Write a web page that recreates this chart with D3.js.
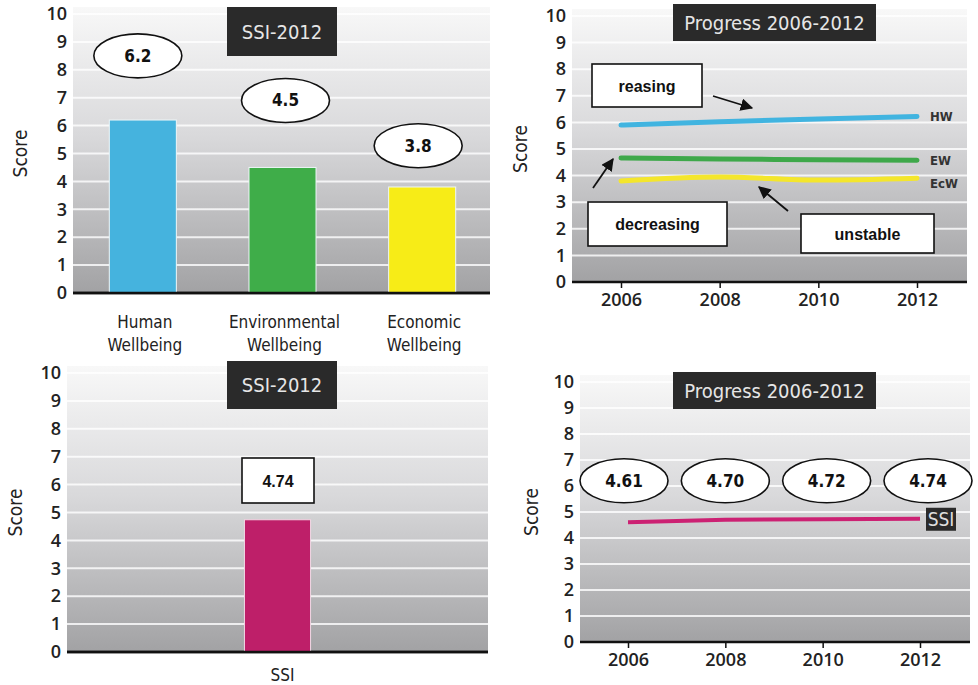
<!DOCTYPE html>
<html>
<head>
<meta charset="utf-8">
<script src="https://cdn.jsdelivr.net/npm/d3@7"></script>
<style>
body { margin: 0; background: #fff; }
</style>
</head>
<body>
<script>
// chart values
var wbCategories = ["Human Wellbeing", "Environmental Wellbeing", "Economic Wellbeing"];
var wbValues = [6.2, 4.5, 3.8];
var wbLabels = ["6.2", "4.5", "3.8"];
var wbColors = ["#45b3de", "#3fad49", "#f7ec17"];

var years = [2006, 2008, 2010, 2012];
var hwSeries = [5.9, 6.02, 6.13, 6.22];
var ewSeries = [4.66, 4.62, 4.6, 4.58];
var ecwSeries = [3.8, 3.95, 3.83, 3.9];
var seriesNames = ["HW", "EW", "EcW"];
var seriesColors = ["#41b4e0", "#3ea84a", "#f4e62c"];

var ssiCategory = ["SSI"];
var ssiValue = [4.74];
var ssiSeries = [4.61, 4.70, 4.72, 4.74];
var ssiLabels = ["4.61", "4.70", "4.72", "4.74"];

var scoreTicks = [0, 1, 2, 3, 4, 5, 6, 7, 8, 9, 10];

var w = 978, h = 685;
var condensed = "DejaVu Sans Condensed, Open Sans, sans-serif";
var numFont = "Open Sans, sans-serif";

var svg = d3.select("body").append("svg")
  .attr("width", w)
  .attr("height", h)
  .attr("font-family", condensed);

// shared gray gradient for plot backgrounds
var defs = svg.append("defs");
var grad = defs.append("linearGradient")
  .attr("id", "bg")
  .attr("x1", 0).attr("y1", 0).attr("x2", 0).attr("y2", 1);
grad.append("stop").attr("offset", "0%").attr("stop-color", "#f8f8f8");
grad.append("stop").attr("offset", "45%").attr("stop-color", "#d9d9db");
grad.append("stop").attr("offset", "100%").attr("stop-color", "#a2a2a4");

defs.append("marker")
  .attr("id", "arrow")
  .attr("viewBox", "0 0 10 10")
  .attr("refX", 9).attr("refY", 5)
  .attr("markerWidth", 7).attr("markerHeight", 7)
  .attr("orient", "auto")
  .append("path")
  .attr("d", "M0,0 L10,5 L0,10 z")
  .attr("fill", "#111");

// background, grid, score axis, baseline and title for one panel
var drawPanel = function(o) {
  var g = svg.append("g");
  var y = o.y;
  g.append("rect")
    .attr("x", o.x0).attr("y", y(10) - 7)
    .attr("width", o.x1 - o.x0).attr("height", y(0) - y(10) + 7)
    .attr("fill", "url(#bg)");

  g.selectAll(".grid")
    .data(scoreTicks.slice(1))
    .enter().append("line")
    .attr("x1", o.x0).attr("x2", o.x1)
    .attr("y1", function(d) { return y(d); })
    .attr("y2", function(d) { return y(d); })
    .attr("stroke", "#fff")
    .attr("stroke-opacity", 0.8)
    .attr("stroke-width", 2);

  var axis = g.append("g")
    .attr("transform", "translate(" + (o.x0 - 6) + ",0)")
    .call(d3.axisLeft(y).tickValues(scoreTicks).tickSize(0).tickPadding(0));
  axis.select(".domain").remove();
  axis.attr("font-family", numFont);
  axis.selectAll("text")
    .attr("font-size", 18)
    .attr("font-weight", 600)
    .attr("fill", "#222");

  g.append("text")
    .attr("transform", "translate(" + o.scoreX + "," + ((y(0) + y(10)) / 2) + ") rotate(-90)")
    .attr("text-anchor", "middle")
    .attr("font-size", 19)
    .attr("fill", "#222")
    .text("Score");

  g.append("line")
    .attr("x1", o.x0).attr("x2", o.x1)
    .attr("y1", y(0)).attr("y2", y(0))
    .attr("stroke", "#111")
    .attr("stroke-width", 2.5);

  g.append("rect")
    .attr("x", o.tx).attr("y", o.ty)
    .attr("width", o.tw).attr("height", o.th)
    .attr("fill", "#2a2a2a");
  g.append("text")
    .attr("x", o.tx + o.tw / 2).attr("y", o.ty + o.th / 2 + 7)
    .attr("text-anchor", "middle")
    .attr("font-size", 20)
    .attr("fill", "#e6e6e6")
    .text(o.title);
  return g;
};

var ellipseLabel = function(g, cx, cy, txt) {
  g.append("ellipse")
    .attr("cx", cx).attr("cy", cy)
    .attr("rx", 44).attr("ry", 22)
    .attr("fill", "#fff")
    .attr("stroke", "#111")
    .attr("stroke-width", 1.6);
  g.append("text")
    .attr("x", cx).attr("y", cy + 6)
    .attr("text-anchor", "middle")
    .attr("font-size", 17)
    .attr("font-weight", "bold")
    .attr("fill", "#111")
    .text(txt);
};

var boxLabel = function(g, x, yy, bw, bh, txt) {
  g.append("rect")
    .attr("x", x).attr("y", yy)
    .attr("width", bw).attr("height", bh)
    .attr("fill", "#fff")
    .attr("stroke", "#111")
    .attr("stroke-width", 1.6);
  g.append("text")
    .attr("x", x + bw / 2).attr("y", yy + bh / 2 + 6)
    .attr("text-anchor", "middle")
    .attr("font-size", 16)
    .attr("font-weight", "bold")
    .attr("font-family", "Liberation Sans, Arial, sans-serif")
    .attr("fill", "#111")
    .text(txt);
};

// ---- panel 1: SSI-2012 wellbeing bars ----
var y1 = d3.scaleLinear().domain([0, 10]).range([293, 14]);
var x1 = d3.scaleBand().domain(wbCategories).range([73, 492])
  .paddingInner(0.52).paddingOuter(0.26);
var p1 = drawPanel({ x0: 73, x1: 490, y: y1, scoreX: 27, title: "SSI-2012",
  tx: 227, ty: 7, tw: 110, th: 49 });

p1.selectAll(".bar")
  .data(wbValues)
  .enter().append("rect")
  .attr("x", function(d, i) { return x1(wbCategories[i]); })
  .attr("y", function(d) { return y1(d); })
  .attr("width", x1.bandwidth())
  .attr("height", function(d) { return y1(0) - y1(d); })
  .attr("fill", function(d, i) { return wbColors[i]; })
  .attr("stroke", "#eef6f8")
  .attr("stroke-width", 1);

// redraw baseline over bars
p1.append("line")
  .attr("x1", 73).attr("x2", 490).attr("y1", y1(0)).attr("y2", y1(0))
  .attr("stroke", "#111").attr("stroke-width", 2.5);

var wbLabelLevels = [8.5, 6.9, 5.28];
var wbLabelShift = [-5, 3, -4];
wbLabels.forEach(function(t, i) {
  ellipseLabel(p1, x1(wbCategories[i]) + x1.bandwidth() / 2 + wbLabelShift[i], y1(wbLabelLevels[i]), t);
});

wbCategories.forEach(function(c, i) {
  var parts = c.split(" ");
  var t = p1.append("text")
    .attr("text-anchor", "middle")
    .attr("font-size", 17)
    .attr("fill", "#222");
  parts.forEach(function(p, j) {
    t.append("tspan")
      .attr("x", x1(c) + x1.bandwidth() / 2 + 2)
      .attr("y", 328 + j * 23)
      .text(p);
  });
});

// ---- panel 2: progress of the three dimensions ----
var y2 = d3.scaleLinear().domain([0, 10]).range([282, 16]);
var x2 = d3.scaleLinear().domain([2006, 2012]).range([621, 917]);
var p2 = drawPanel({ x0: 572, x1: 967, y: y2, scoreX: 527, title: "Progress 2006-2012",
  tx: 673, ty: 4, tw: 203, th: 37 });

var xAxis2 = p2.append("g")
  .attr("transform", "translate(0," + y2(0) + ")")
  .call(d3.axisBottom(x2).tickValues(years).tickFormat(d3.format("d")).tickSize(6).tickPadding(5));
xAxis2.select(".domain").remove();
xAxis2.attr("font-family", numFont);
xAxis2.selectAll("line").attr("stroke", "#111").attr("stroke-width", 1.5);
xAxis2.selectAll("text").attr("font-size", 18).attr("font-weight", 600).attr("fill", "#222");

var lineGen2 = d3.line()
  .x(function(d, i) { return x2(years[i]); })
  .y(function(d) { return y2(d); })
  .curve(d3.curveMonotoneX);

var allSeries = [hwSeries, ewSeries, ecwSeries];
p2.selectAll(".series")
  .data(allSeries)
  .enter().append("path")
  .attr("d", lineGen2)
  .attr("fill", "none")
  .attr("stroke", function(d, i) { return seriesColors[i]; })
  .attr("stroke-width", 5)
  .attr("stroke-linecap", "round");

var nameOffsets = [0, 1, 6];
seriesNames.forEach(function(n, i) {
  var s = allSeries[i];
  p2.append("text")
    .attr("x", x2(2012) + 13)
    .attr("y", y2(s[s.length - 1]) + 4 + nameOffsets[i])
    .attr("font-size", 13)
    .attr("font-weight", "bold")
    .attr("fill", "#333")
    .text(n);
});

boxLabel(p2, 592, 64, 110, 43, "reasing");
boxLabel(p2, 588, 202, 139, 44, "decreasing");
boxLabel(p2, 801, 214, 133, 39, "unstable");

var arrows = [
  [713, 96, 752, 108],
  [593, 188, 613, 159],
  [788, 211, 759, 187]
];
p2.selectAll(".arrow")
  .data(arrows)
  .enter().append("line")
  .attr("x1", function(d) { return d[0]; })
  .attr("y1", function(d) { return d[1]; })
  .attr("x2", function(d) { return d[2]; })
  .attr("y2", function(d) { return d[3]; })
  .attr("stroke", "#111")
  .attr("stroke-width", 1.8)
  .attr("marker-end", "url(#arrow)");

// ---- panel 3: SSI-2012 single bar ----
var y3 = d3.scaleLinear().domain([0, 10]).range([652, 373]);
var x3 = d3.scaleBand().domain(ssiCategory).range([67, 488])
  .paddingInner(0.843).paddingOuter(0.42);
var p3 = drawPanel({ x0: 67, x1: 488, y: y3, scoreX: 22, title: "SSI-2012",
  tx: 227, ty: 361, tw: 110, th: 48 });

p3.selectAll(".bar")
  .data(ssiValue)
  .enter().append("rect")
  .attr("x", function(d, i) { return x3(ssiCategory[i]); })
  .attr("y", function(d) { return y3(d); })
  .attr("width", x3.bandwidth())
  .attr("height", function(d) { return y3(0) - y3(d); })
  .attr("fill", "#be1f69")
  .attr("stroke", "#f2d8e4")
  .attr("stroke-width", 1);

p3.append("line")
  .attr("x1", 67).attr("x2", 488).attr("y1", y3(0)).attr("y2", y3(0))
  .attr("stroke", "#111").attr("stroke-width", 2.5);

boxLabel(p3, 242, 458, 72, 45, d3.format(".2f")(ssiValue[0]));

p3.append("text")
  .attr("x", x3("SSI") + x3.bandwidth() / 2 + 5)
  .attr("y", 681)
  .attr("text-anchor", "middle")
  .attr("font-size", 17)
  .attr("fill", "#222")
  .text("SSI");

// ---- panel 4: SSI progress ----
var y4 = d3.scaleLinear().domain([0, 10]).range([642, 382]);
var x4 = d3.scaleLinear().domain([2006, 2012]).range([628, 920]);
var p4 = drawPanel({ x0: 580, x1: 970, y: y4, scoreX: 538, title: "Progress 2006-2012",
  tx: 673, ty: 372, tw: 203, th: 37 });

var xAxis4 = p4.append("g")
  .attr("transform", "translate(0," + y4(0) + ")")
  .call(d3.axisBottom(x4).tickValues(years).tickFormat(d3.format("d")).tickSize(6).tickPadding(5));
xAxis4.select(".domain").remove();
xAxis4.attr("font-family", numFont);
xAxis4.selectAll("line").attr("stroke", "#111").attr("stroke-width", 1.5);
xAxis4.selectAll("text").attr("font-size", 18).attr("font-weight", 600).attr("fill", "#222");

var lineGen4 = d3.line()
  .x(function(d, i) { return x4(years[i]); })
  .y(function(d) { return y4(d); });

p4.append("path")
  .datum(ssiSeries)
  .attr("d", lineGen4)
  .attr("fill", "none")
  .attr("stroke", "#cc2173")
  .attr("stroke-width", 4);

ssiLabels.forEach(function(t, i) {
  ellipseLabel(p4, x4(years[i]) - 4 + i * 4, y4(6.2), t);
});

p4.append("rect")
  .attr("x", x4(2012) + 6).attr("y", y4(ssiSeries[3]) - 11)
  .attr("width", 30).attr("height", 23)
  .attr("fill", "#2a2a2a");
p4.append("text")
  .attr("x", x4(2012) + 21).attr("y", y4(ssiSeries[3]) + 7)
  .attr("text-anchor", "middle")
  .attr("font-size", 19)
  .attr("fill", "#ddd")
  .text("SSI");
</script>
</body>
</html>
